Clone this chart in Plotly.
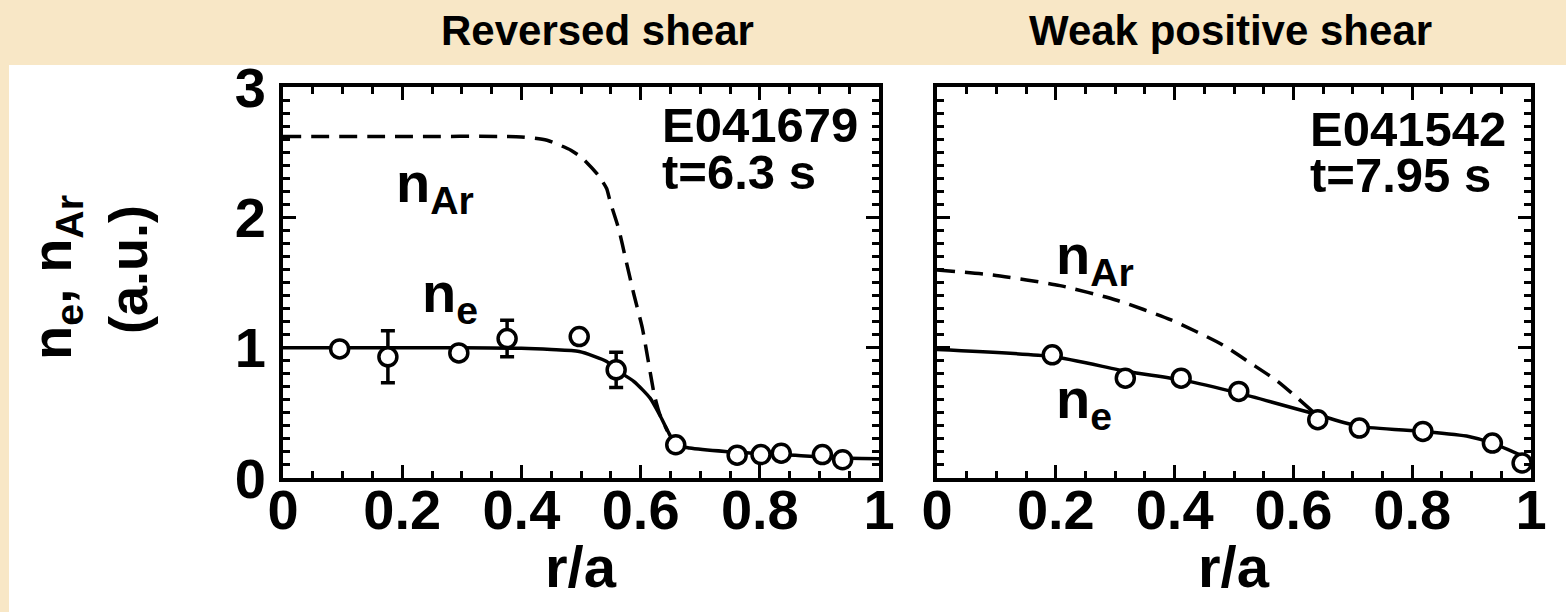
import plotly.graph_objects as go

W, H = 1566, 612

# ---------------- data ----------------
# Reversed shear (left panel)
rs_r_pts = [0.095, 0.176, 0.295, 0.376, 0.497, 0.559, 0.659, 0.762, 0.802, 0.836, 0.905, 0.939]
rs_ne_pts = [0.99, 0.93, 0.96, 1.07, 1.085, 0.83, 0.255, 0.175, 0.18, 0.19, 0.18, 0.14]
rs_err_r = [0.176, 0.376, 0.559]
rs_err_ne = [0.93, 1.07, 0.83]
rs_err = [0.20, 0.14, 0.135]
rs_fit_r = [0.0, 0.1, 0.2, 0.3, 0.4, 0.45, 0.497, 0.543, 0.559, 0.589, 0.616, 0.632, 0.646, 0.659, 0.682, 0.742, 0.842, 0.942, 1.0]
rs_fit_ne = [1.0, 1.0, 1.0, 1.0, 0.995, 0.985, 0.97, 0.894, 0.83, 0.74, 0.613, 0.485, 0.357, 0.255, 0.23, 0.204, 0.179, 0.153, 0.148]
rs_ar_r = [0.0, 0.2, 0.4, 0.443, 0.483, 0.503, 0.529, 0.543, 0.549, 0.563, 0.576, 0.589, 0.603, 0.613, 0.623, 0.632, 0.645]
rs_ar = [2.62, 2.62, 2.617, 2.591, 2.515, 2.451, 2.323, 2.221, 2.119, 1.915, 1.659, 1.404, 1.149, 0.894, 0.638, 0.49, 0.36]

# Weak positive shear (right panel)
wp_r_pts = [0.194, 0.317, 0.411, 0.508, 0.641, 0.711, 0.818, 0.935, 0.985]
wp_ne_pts = [0.945, 0.766, 0.766, 0.664, 0.447, 0.383, 0.357, 0.268, 0.115]
wp_fit_r = [0.0, 0.194, 0.321, 0.411, 0.508, 0.641, 0.711, 0.818, 0.895, 0.935, 1.0]
wp_fit_ne = [0.985, 0.932, 0.817, 0.753, 0.651, 0.485, 0.396, 0.357, 0.319, 0.268, 0.14]
wp_ar_r = [0.0, 0.094, 0.207, 0.301, 0.394, 0.481, 0.528, 0.574, 0.635]
wp_ar = [1.596, 1.557, 1.476, 1.366, 1.213, 1.021, 0.881, 0.74, 0.5]

x_ticks = [0, 0.2, 0.4, 0.6, 0.8, 1.0]
x_tick_labels = ["0", "0.2", "0.4", "0.6", "0.8", "1"]
y_ticks = [0, 1, 2, 3]
y_tick_labels = ["0", "1", "2", "3"]

titles = ["Reversed shear", "Weak positive shear"]
shots = ["E041679", "E041542"]
times = ["t=6.3 s", "t=7.95 s"]

FONT = "Liberation Sans"
PARCH = "#F8E7C6"

# ---------------- figure ----------------
fig = go.Figure()

def panel(xa, ya, fit_r, fit_ne, ar_r, ar, r_pts, ne_pts, err_r=None, err_ne=None, err=None):
    fig.add_trace(go.Scatter(x=fit_r, y=fit_ne, mode="lines", line=dict(color="black", width=3.5, shape="spline", smoothing=0.6),
                             xaxis=xa, yaxis=ya, showlegend=False, hoverinfo="skip"))
    fig.add_trace(go.Scatter(x=ar_r, y=ar, mode="lines", line=dict(color="black", width=3.5, dash="18px,10px", shape="spline", smoothing=0.6),
                             xaxis=xa, yaxis=ya, showlegend=False, hoverinfo="skip"))
    if err_r is not None:
        fig.add_trace(go.Scatter(x=err_r, y=err_ne, mode="markers", marker=dict(size=1, color="rgba(0,0,0,0)"),
                                 error_y=dict(type="data", array=err, visible=True, thickness=3.5, width=7, color="black"),
                                 xaxis=xa, yaxis=ya, showlegend=False, hoverinfo="skip"))
    fig.add_trace(go.Scatter(x=r_pts, y=ne_pts, mode="markers",
                             marker=dict(symbol="circle", size=18, color="white", line=dict(color="black", width=3.5)),
                             xaxis=xa, yaxis=ya, showlegend=False, hoverinfo="skip"))

panel("x", "y", rs_fit_r, rs_fit_ne, rs_ar_r, rs_ar, rs_r_pts, rs_ne_pts, rs_err_r, rs_err_ne, rs_err)
panel("x2", "y2", wp_fit_r, wp_fit_ne, wp_ar_r, wp_ar, wp_r_pts, wp_ne_pts)

def px(x):
    return x / W

def py(y):
    return 1 - y / H

L0, L1 = 283, 879
R0, R1 = 937, 1531
T, B = 87, 478

tickfont = dict(family=FONT, size=56, color="black", weight="bold")

def xaxis_cfg(dom, anchor):
    return dict(domain=[px(dom[0]), px(dom[1])], range=[0, 1], anchor=anchor, automargin=False,
                tickmode="array", tickvals=x_ticks, ticktext=x_tick_labels,
                ticks="inside", ticklen=13, tickwidth=3, tickcolor="black",
                minor=dict(tickmode="linear", tick0=0, dtick=0.05, ticks="inside", ticklen=7, tickwidth=3, tickcolor="black"),
                showline=True, linewidth=4, linecolor="black", mirror="allticks",
                showgrid=False, zeroline=False, tickfont=tickfont, ticklabelstandoff=-20, fixedrange=True)

def yaxis_cfg(show_labels, anchor):
    return dict(domain=[py(B), py(T)], range=[0, 3], anchor=anchor, automargin=False,
                tickmode="array", tickvals=y_ticks,
                ticktext=y_tick_labels if show_labels else [" ", " ", " ", " "],
                ticks="inside", ticklen=13, tickwidth=3, tickcolor="black",
                minor=dict(tickmode="linear", tick0=0, dtick=0.1, ticks="inside", ticklen=7, tickwidth=3, tickcolor="black"),
                showline=True, linewidth=4, linecolor="black", mirror="allticks",
                showgrid=False, zeroline=False, tickfont=tickfont, ticklabelstandoff=2, fixedrange=True)

ann = []

def text(x, y, s, size, xanchor="center", yanchor="middle", angle=0):
    ann.append(dict(x=px(x), y=py(y), xref="paper", yref="paper", text=s, showarrow=False,
                    xanchor=xanchor, yanchor=yanchor, textangle=angle,
                    font=dict(family=FONT, size=size, color="black", weight="bold")))

# titles
text(597, 30, titles[0], 42)
text(1230, 30, titles[1], 42)
# shot labels
text(660, 125, shots[0], 49, xanchor="left")
text(660, 172, times[0], 49, xanchor="left")
text(1308, 129, shots[1], 49, xanchor="left")
text(1308, 175, times[1], 49, xanchor="left")
# curve labels
text(394, 186, "n<sub>Ar</sub>", 56, xanchor="left")
text(420, 296, "n<sub>e</sub>", 56, xanchor="left")
text(1054, 258, "n<sub>Ar</sub>", 56, xanchor="left")
text(1054, 402, "n<sub>e</sub>", 56, xanchor="left")
# axis titles
text((L0 + L1) / 2, 566, "r/a", 58)
text((R0 + R1) / 2, 566, "r/a", 58)
text(56, 278, "n<sub>e</sub>, n<sub>Ar</sub>", 56, angle=-90)
text(128, 270, "(a.u.)", 54, angle=-90)

shapes = [dict(type="rect", xref="paper", yref="paper", x0=px(9), x1=1.0, y0=0, y1=py(65),
               fillcolor="white", line=dict(width=0), layer="below")]

fig.update_layout(
    width=W, height=H, autosize=False,
    margin=dict(l=0, r=0, t=0, b=0, pad=0, autoexpand=False),
    paper_bgcolor=PARCH, plot_bgcolor="white",
    xaxis=xaxis_cfg((L0, L1), "y"), yaxis=yaxis_cfg(True, "x"),
    xaxis2=xaxis_cfg((R0, R1), "y2"), yaxis2=yaxis_cfg(False, "x2"),
    annotations=ann, shapes=shapes, showlegend=False,
)

fig.write_html("out.html")
